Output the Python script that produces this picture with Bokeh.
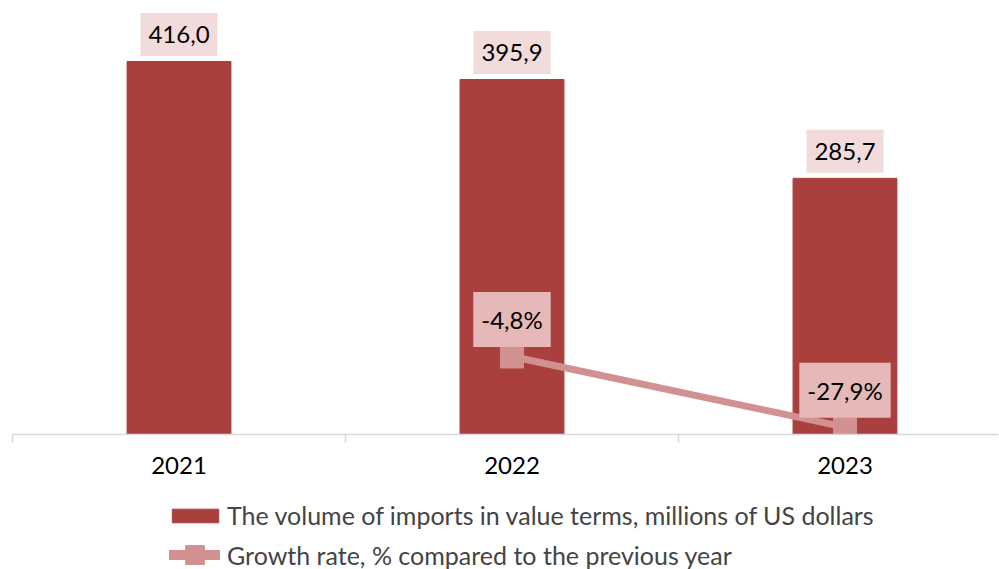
from bokeh.plotting import figure
from bokeh.layouts import column
from bokeh.models import (Range1d, FixedTicker, Label, Legend, LegendItem)
from bokeh.embed import file_html
from bokeh.resources import INLINE

years = ["2021", "2022", "2023"]
imports = [416.0, 395.9, 285.7]
import_labels = ["416,0", "395,9", "285,7"]
growth_years = ["2022", "2023"]
growth = [-4.8, -27.9]
growth_labels = ["-4,8%", "-27,9%"]
legend_labels = ["The volume of imports in value terms, millions of US dollars",
                 "Growth rate, % compared to the previous year"]

FONT = "Lato"
BAR = "#A9403D"
LINE = "#D29191"

xpos = [i + 1 for i in range(len(years))]
gpos = [years.index(y) + 1 for y in growth_years]
bounds = [i + 0.5 for i in range(len(years) + 1)]

p = figure(frame_width=986, frame_height=434, output_backend="svg",
           toolbar_location=None, y_axis_location=None,
           x_range=Range1d(0.5, 3.461), y_range=Range1d(0, 484),
           min_border_left=12, min_border_right=1, min_border_top=0,
           min_border_bottom=56)
p.extra_y_ranges = {"g": Range1d(-30.3, 111.5)}
p.outline_line_color = None
p.grid.visible = False

ax = p.xaxis[0]
ax.ticker = FixedTicker(ticks=xpos, minor_ticks=bounds)
ax.major_label_overrides = {x: y for x, y in zip(xpos, years)}
ax.major_tick_out = 0
ax.major_tick_in = 0
ax.minor_tick_out = 8
ax.minor_tick_in = 0
ax.minor_tick_line_color = "#D9D9D9"
ax.minor_tick_line_width = 1.5
ax.axis_line_color = "#D9D9D9"
ax.axis_line_width = 1.5
ax.major_label_text_font = FONT
ax.major_label_text_font_size = "24px"
ax.major_label_text_color = "black"
ax.major_label_standoff = 14

p.vbar(x=xpos, top=imports, width=0.312, color=BAR)
p.line(gpos, growth, y_range_name="g", line_width=7, color=LINE)
p.scatter(gpos, growth, y_range_name="g", marker="square", size=23, color=LINE)

pad = dict(left=8, right=8, top=13, bottom=13)
for x, y, t in zip(xpos, imports, import_labels):
    p.add_layout(Label(x=x, y=y, text=t, y_offset=27,
                       text_align="center", text_baseline="middle",
                       text_font=FONT, text_font_size="24px", text_color="black",
                       background_fill_color="#F2DCDB", padding=pad))
for x, y, t in zip(gpos, growth, growth_labels):
    p.add_layout(Label(x=x, y=y, text=t, y_offset=37, y_range_name="g",
                       text_align="center", text_baseline="middle",
                       text_font=FONT, text_font_size="24px", text_color="black",
                       background_fill_color="#E6B8B7", padding=pad))

# legend strip: same series drawn out of view, only their legend entries show
q = figure(width=999, height=79, output_backend="svg", toolbar_location=None,
           x_axis_location=None, y_axis_location=None,
           x_range=Range1d(100, 101), y_range=Range1d(1000, 1001), min_border=0)
q.outline_line_color = None
q.grid.visible = False
lb = q.vbar(x=xpos, top=imports, width=0.312, color=BAR)
ll = q.line(gpos, growth, line_width=10, line_cap="round", color=LINE)
ls = q.scatter(gpos, growth, marker="square", size=23, color=LINE)

common = dict(orientation="vertical", border_line_color=None,
              background_fill_alpha=0, label_text_font=FONT,
              label_text_font_size="25px", label_height=28,
              padding=0, margin=0)
leg1 = Legend(items=[LegendItem(label=legend_labels[0], renderers=[lb])],
              location=(154, 39), glyph_width=58, glyph_height=17,
              label_standoff=3, **common)
leg2 = Legend(items=[LegendItem(label=legend_labels[1], renderers=[ll, ls])],
              location=(157, -9), glyph_width=51, glyph_height=47,
              label_standoff=7, **common)
q.add_layout(leg1)
q.add_layout(leg2)

open("out.html", "w").write(file_html(column(p, q, spacing=0), INLINE))
